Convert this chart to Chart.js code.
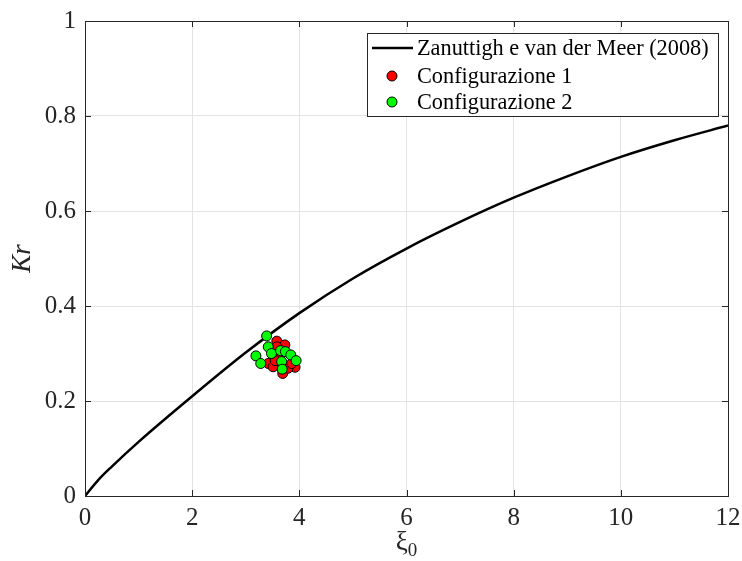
<!DOCTYPE html>
<html>
<head>
<meta charset="utf-8">
<script src="https://cdn.jsdelivr.net/npm/chart.js@4/dist/chart.umd.min.js"></script>
<style>
  body { margin: 0; background: #fff; }
  canvas { display: block; }
</style>
</head>
<body>
<canvas id="grafico" width="742" height="561"></canvas>
<script>
// curva Zanuttigh e van der Meer (2008)
const curvaXi = [0, 0.25, 0.5, 1, 2, 3, 4, 5, 6, 7, 8, 9, 10, 11, 12];
const curvaKr = [0, 0.034, 0.062, 0.114, 0.21, 0.302, 0.385, 0.458, 0.521, 0.577, 0.628, 0.673, 0.714, 0.749, 0.78];

// Configurazione 1 (rosso)
const xi1 = [3.58, 3.73, 3.69, 3.42, 3.92, 3.51, 3.79, 3.58, 3.86, 3.62, 3.55];
const kr1 = [0.326, 0.318, 0.258, 0.279, 0.271, 0.272, 0.269, 0.314, 0.279, 0.292, 0.285];

// Configurazione 2 (verde)
const xi2 = [3.39, 3.19, 3.28, 3.42, 3.48, 3.65, 3.74, 3.67, 3.84, 3.94, 3.68];
const kr2 = [0.337, 0.295, 0.279, 0.314, 0.3, 0.306, 0.304, 0.283, 0.297, 0.285, 0.267];

const etichette = ["Zanuttigh e van der Meer (2008)", "Configurazione 1", "Configurazione 2"];
const xTicks = [0, 2, 4, 6, 8, 10, 12];
const yTicks = [0, 0.2, 0.4, 0.6, 0.8, 1];

const FONT = "'Liberation Serif', 'Times New Roman', serif";
const SCURO = "#262626";

function coppie(xs, ys) {
  return xs.map((x, i) => ({ x: x, y: ys[i] }));
}

// box, tacche interne, titoli degli assi e legenda
const cornice = {
  id: "cornice",
  afterDraw(chart) {
    const ctx = chart.ctx;
    const a = chart.chartArea;
    const sx = chart.scales.x;
    const sy = chart.scales.y;
    const tl = 6;
    ctx.save();
    ctx.strokeStyle = SCURO;
    ctx.lineWidth = 1;
    ctx.beginPath();
    xTicks.forEach((v) => {
      const px = Math.round(sx.getPixelForValue(v)) + 0.5;
      ctx.moveTo(px, a.bottom);
      ctx.lineTo(px, a.bottom - tl);
      ctx.moveTo(px, a.top);
      ctx.lineTo(px, a.top + tl);
    });
    yTicks.forEach((v) => {
      const py = Math.round(sy.getPixelForValue(v)) + 0.5;
      ctx.moveTo(a.left, py);
      ctx.lineTo(a.left + tl, py);
      ctx.moveTo(a.right, py);
      ctx.lineTo(a.right - tl, py);
    });
    ctx.stroke();
    ctx.strokeRect(Math.round(a.left) + 0.5, Math.round(a.top) + 0.5,
      Math.round(a.right - a.left), Math.round(a.bottom - a.top));

    // titolo asse x: xi con pedice 0
    ctx.fillStyle = SCURO;
    ctx.textBaseline = "alphabetic";
    ctx.font = "27px " + FONT;
    const cx = (a.left + a.right) / 2;
    const wXi = ctx.measureText("ξ").width;
    ctx.font = "19px " + FONT;
    const w0 = ctx.measureText("0").width;
    const x0 = cx - (wXi + w0) / 2;
    ctx.font = "27px " + FONT;
    ctx.textAlign = "left";
    ctx.fillText("ξ", x0, 550);
    ctx.font = "19px " + FONT;
    ctx.fillText("0", x0 + wXi, 556);

    // titolo asse y
    ctx.save();
    ctx.translate(30, (a.top + a.bottom) / 2);
    ctx.rotate(-Math.PI / 2);
    ctx.font = "italic 27px " + FONT;
    ctx.textAlign = "center";
    ctx.fillText("Kr", 0, 0);
    ctx.restore();

    // legenda
    const lx = 367, ly = 33, lw = 351, lh = 83;
    ctx.fillStyle = "#ffffff";
    ctx.fillRect(lx, ly, lw, lh);
    ctx.strokeStyle = SCURO;
    ctx.strokeRect(lx + 0.5, ly + 0.5, lw, lh);
    const righe = [48, 76, 102];
    chart.data.datasets.forEach((ds, i) => {
      const ry = righe[i];
      if (i === 0) {
        ctx.strokeStyle = ds.borderColor;
        ctx.lineWidth = ds.borderWidth;
        ctx.beginPath();
        ctx.moveTo(372, ry);
        ctx.lineTo(413, ry);
        ctx.stroke();
      } else {
        ctx.fillStyle = ds.backgroundColor;
        ctx.strokeStyle = "#000";
        ctx.lineWidth = 1;
        ctx.beginPath();
        ctx.arc(392, ry, 5, 0, Math.PI * 2);
        ctx.fill();
        ctx.stroke();
      }
      ctx.fillStyle = "#000";
      ctx.font = "22.3px " + FONT;
      ctx.textAlign = "left";
      ctx.textBaseline = "middle";
      ctx.fillText(ds.label, 417, ry + 1);
    });
    ctx.restore();
  },
};

const grafico = new Chart(document.getElementById("grafico"), {
  type: "scatter",
  data: {
    datasets: [
      {
        label: etichette[0],
        data: coppie(curvaXi, curvaKr),
        showLine: true,
        borderColor: "#000000",
        borderWidth: 2.5,
        pointRadius: 0,
        cubicInterpolationMode: "monotone",
        order: 2,
      },
      {
        label: etichette[1],
        data: coppie(xi1, kr1),
        backgroundColor: "#ff0000",
        borderColor: "#000000",
        borderWidth: 1,
        pointRadius: 5,
        order: 1,
      },
      {
        label: etichette[2],
        data: coppie(xi2, kr2),
        backgroundColor: "#00ff00",
        borderColor: "#000000",
        borderWidth: 1,
        pointRadius: 5,
        order: 0,
      },
    ],
  },
  options: {
    responsive: false,
    devicePixelRatio: 1,
    animation: false,
    layout: { padding: { top: 21, right: 14, left: 0, bottom: 0 } },
    plugins: {
      legend: { display: false },
      tooltip: { enabled: false },
    },
    scales: {
      x: {
        type: "linear",
        min: 0,
        max: 12,
        afterFit: (s) => { s.height = 65; s.paddingLeft = 0; s.paddingRight = 0; },
        afterBuildTicks: (s) => { s.ticks = xTicks.map((v) => ({ value: v })); },
        grid: { color: "#e3e3e3", drawTicks: false },
        border: { display: false },
        ticks: { padding: 7, color: SCURO, font: { family: FONT, size: 25 }, maxRotation: 0,
          callback: (v) => String(v) },
      },
      y: {
        type: "linear",
        min: 0,
        max: 1,
        afterFit: (s) => { s.width = 85; s.paddingTop = 0; s.paddingBottom = 0; },
        afterBuildTicks: (s) => { s.ticks = yTicks.map((v) => ({ value: v })); },
        grid: { color: "#e3e3e3", drawTicks: false },
        border: { display: false },
        ticks: { padding: 9, color: SCURO, font: { family: FONT, size: 25 },
          callback: (v) => String(v) },
      },
    },
  },
  plugins: [cornice],
});
</script>
</body>
</html>
